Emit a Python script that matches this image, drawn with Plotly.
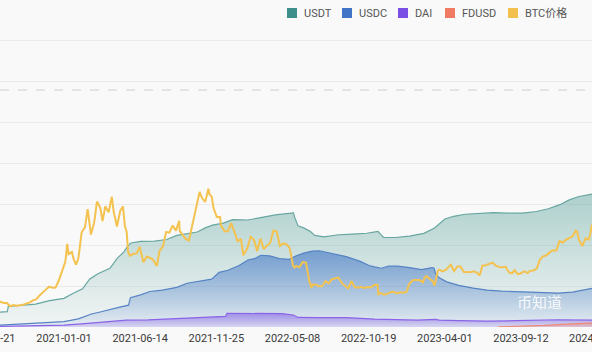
import pandas as pd
import plotly.graph_objects as go

# ---------------- data ----------------
btc_dates = [
    "2020-08-10","2020-08-17","2020-08-24","2020-08-31","2020-09-07","2020-09-14","2020-09-21","2020-09-28",
    "2020-10-05","2020-10-12","2020-10-19","2020-10-26","2020-11-02","2020-11-09","2020-11-16","2020-11-23",
    "2020-11-30","2020-12-07","2020-12-14","2020-12-21","2020-12-28","2021-01-04","2021-01-08","2021-01-11",
    "2021-01-18","2021-01-22","2021-01-27","2021-02-01","2021-02-08","2021-02-15","2021-02-21","2021-02-28",
    "2021-03-07","2021-03-13","2021-03-20","2021-03-25","2021-03-31","2021-04-07","2021-04-14","2021-04-18",
    "2021-04-25","2021-05-02","2021-05-08","2021-05-12","2021-05-16","2021-05-19","2021-05-23","2021-05-30",
    "2021-06-06","2021-06-13","2021-06-21","2021-06-28","2021-07-05","2021-07-12","2021-07-20","2021-07-26",
    "2021-08-02","2021-08-09","2021-08-16","2021-08-23","2021-08-30","2021-09-06","2021-09-07","2021-09-13",
    "2021-09-20","2021-09-27","2021-10-04","2021-10-11","2021-10-20","2021-10-25","2021-11-01","2021-11-08",
    "2021-11-10","2021-11-15","2021-11-19","2021-11-26","2021-12-03","2021-12-05","2021-12-13","2021-12-20",
    "2021-12-27","2022-01-03","2022-01-10","2022-01-17","2022-01-22","2022-01-31","2022-02-07","2022-02-14",
    "2022-02-21","2022-02-28","2022-03-07","2022-03-14","2022-03-21","2022-03-28","2022-04-04","2022-04-11",
    "2022-04-18","2022-04-25","2022-05-02","2022-05-09","2022-05-12","2022-05-16","2022-05-23","2022-05-30",
    "2022-06-06","2022-06-13","2022-06-18","2022-06-20","2022-06-27","2022-07-04","2022-07-11","2022-07-18",
    "2022-07-25","2022-08-01","2022-08-08","2022-08-15","2022-08-22","2022-08-29","2022-09-05","2022-09-12",
    "2022-09-19","2022-09-26","2022-10-03","2022-10-10","2022-10-17","2022-10-24","2022-10-31","2022-11-07",
    "2022-11-09","2022-11-14","2022-11-21","2022-11-28","2022-12-05","2022-12-12","2022-12-19","2022-12-26",
    "2023-01-02","2023-01-09","2023-01-14","2023-01-23","2023-01-30","2023-02-06","2023-02-13","2023-02-16",
    "2023-02-20","2023-02-27","2023-03-06","2023-03-10","2023-03-13","2023-03-17","2023-03-20","2023-03-27",
    "2023-04-03","2023-04-10","2023-04-14","2023-04-21","2023-04-28","2023-05-05","2023-05-12","2023-05-19",
    "2023-05-26","2023-06-02","2023-06-09","2023-06-15","2023-06-21","2023-06-28","2023-07-05","2023-07-13",
    "2023-07-20","2023-07-27","2023-08-03","2023-08-10","2023-08-17","2023-08-24","2023-08-29","2023-09-05",
    "2023-09-12","2023-09-19","2023-09-26","2023-10-02","2023-10-09","2023-10-16","2023-10-23","2023-10-30",
    "2023-11-06","2023-11-13","2023-11-20","2023-11-27","2023-12-04","2023-12-11","2023-12-18","2023-12-25",
    "2024-01-01","2024-01-08","2024-01-11","2024-01-15","2024-01-22","2024-01-29","2024-02-05","2024-02-08",
    "2024-02-12",
]
btc_prices = [
    11900,12300,11700,11700,10100,10700,10400,10700,
    10800,11500,11900,13000,13500,15300,16700,18400,
    19700,19200,19300,22800,27000,31900,40600,35500,
    36600,33000,30400,33500,46200,48600,57500,45100,
    51000,61200,58200,51700,58900,56000,63500,56200,
    49000,56600,58800,49200,46400,36700,34700,35700,
    35800,39100,31600,34400,33800,32700,29800,37300,
    39200,46400,46000,49500,47000,51800,46900,44900,
    43000,42200,49100,57500,65900,63000,61000,67500,
    64900,63600,58000,53600,53600,49400,46700,46700,
    50700,46400,41800,43100,35000,38500,44000,42500,
    37000,43200,38000,39700,41000,47100,46600,39500,
    40800,40400,38500,30100,29000,29800,29100,31700,
    31400,22500,19000,20600,20700,19900,19900,22400,
    21300,23300,23800,24100,21500,20300,18800,22400,
    19500,19200,19600,19100,19500,19300,20500,20600,
    15900,16600,15800,16200,17000,17200,16400,16900,
    16700,17200,20900,22900,22800,22900,21800,23800,
    24800,23500,22400,20200,24100,27400,28000,27100,
    27800,29700,30400,27300,29500,29500,26800,26800,
    26700,27200,26500,25100,30000,30100,30800,31400,
    29900,29300,29200,29400,26600,26200,27700,25800,
    26200,27200,26300,27500,27600,28500,33000,34500,
    35000,36500,37400,37200,41900,41200,42600,43600,
    44200,47000,46400,42500,39500,43300,42600,45300,
    50000,
]

usdt_dates = [
    "2020-08-10","2020-09-01","2020-09-03","2020-10-01","2020-11-01","2020-12-01","2021-01-01","2021-01-20",
    "2021-02-10","2021-02-25","2021-03-15","2021-04-10","2021-04-25","2021-05-10","2021-05-18","2021-05-25",
    "2021-06-15","2021-07-15","2021-08-10","2021-09-01","2021-09-25","2021-10-15","2021-11-01","2021-11-17",
    "2021-12-10","2021-12-30","2022-02-01","2022-03-01","2022-04-01","2022-05-10","2022-05-13","2022-05-20",
    "2022-06-01","2022-06-15","2022-06-25","2022-07-15","2022-08-15","2022-09-15","2022-10-15","2022-11-08",
    "2022-11-20","2022-12-15","2023-01-15","2023-02-15","2023-03-10","2023-04-01","2023-04-20","2023-05-15",
    "2023-06-15","2023-07-15","2023-08-15","2023-09-15","2023-10-15","2023-11-10","2023-12-05","2023-12-25",
    "2024-01-15","2024-02-01","2024-02-15",
]
usdt_cap = [
    10.8,11.2,15.0,15.8,16.8,19.3,21.0,24.5,
    28.0,35.0,39.0,43.0,50.0,55.0,59.0,61.5,
    62.7,62.8,64.0,67.0,68.5,69.5,72.5,74.5,
    76.0,78.5,78.3,80.0,82.0,83.5,80.0,74.0,
    72.5,70.0,67.0,66.0,67.5,68.0,68.6,70.0,
    65.5,65.5,66.5,68.5,72.5,79.0,81.0,82.5,
    83.3,83.7,83.3,83.3,84.5,86.5,89.5,93.0,
    95.5,96.5,97.5,
]

usdc_dates = [
    "2020-08-10","2020-09-15","2020-10-15","2020-12-01","2021-01-01","2021-02-01","2021-03-01","2021-03-20",
    "2021-04-10","2021-05-01","2021-05-20","2021-05-24","2021-06-15","2021-07-05","2021-08-01","2021-09-01",
    "2021-09-23","2021-10-20","2021-11-15","2021-12-01","2021-12-20","2022-01-13","2022-02-01","2022-02-15",
    "2022-03-01","2022-03-20","2022-04-10","2022-05-01","2022-05-15","2022-06-01","2022-06-20","2022-07-05",
    "2022-08-01","2022-09-01","2022-10-01","2022-10-20","2022-11-01","2022-11-15","2022-12-01","2022-12-20",
    "2023-01-15","2023-02-10","2023-03-05","2023-03-09","2023-03-12","2023-03-20","2023-04-05","2023-05-01",
    "2023-06-01","2023-07-01","2023-08-01","2023-09-01","2023-10-01","2023-11-01","2023-12-01","2024-01-01",
    "2024-02-01","2024-02-15",
]
usdc_cap = [
    1.2,1.8,2.7,3.0,4.0,6.0,9.5,11.0,
    12.5,14.5,16.0,21.5,23.5,26.0,27.0,29.0,
    32.0,33.5,35.0,40.0,41.5,45.0,49.0,50.0,
    52.5,52.0,50.0,49.5,52.0,54.0,55.5,55.8,
    54.0,51.5,48.0,45.0,44.0,43.0,44.5,44.5,
    43.5,42.0,43.5,43.0,39.0,36.0,33.0,30.5,
    28.5,27.0,26.2,25.8,25.2,24.8,24.8,25.5,
    27.5,28.5,
]

dai_dates = [
    "2020-08-10","2020-10-01","2020-12-01","2021-01-01","2021-02-15","2021-04-01","2021-05-15","2021-07-01",
    "2021-09-01","2021-10-15","2021-11-15","2021-12-15","2021-12-18","2022-01-15","2022-03-01","2022-04-15",
    "2022-05-10","2022-05-20","2022-07-01","2022-09-01","2022-11-01","2022-12-01","2023-02-01","2023-03-12",
    "2023-03-20","2023-05-01","2023-07-01","2023-09-01","2023-10-15","2023-12-01","2024-02-15",
]
dai_cap = [
    0.4,0.9,1.0,1.3,2.5,3.5,5.0,5.2,
    6.0,7.0,7.5,7.8,10.0,10.0,10.2,9.8,
    8.8,7.0,6.8,6.9,5.8,5.5,5.0,5.6,
    5.0,4.7,4.3,4.6,5.2,5.3,5.0,
]

fdusd_dates = ["2023-07-25","2023-09-01","2023-10-01","2023-11-01","2023-12-01","2024-01-01","2024-02-01","2024-02-15"]
fdusd_cap = [0.1,0.4,0.7,1.2,1.8,2.3,2.7,3.0]

tick_labels = ["2020-07-21","2021-01-01","2021-06-14","2021-11-25","2022-05-08",
               "2022-10-19","2023-04-01","2023-09-12","2024-02-23"]

dashed_level = 173.4          # reference line on the market-cap axis (B)
cap_axis_max, cap_axis_step = 210, 30
btc_axis_max = 140000

series_names = ["USDT", "USDC", "DAI", "FDUSD", "BTC价格"]
series_colors = ["#3d8f8b", "#3f74c6", "#7a4fe6", "#f07a62", "#f2c04e"]

# ---------------- layout helpers ----------------
W, H = 592, 352
M_L, M_R, M_T, M_B = 0, 0, 38, 25
grid_px = 287                                   # pixel height of the gridded 0..max span
pad_frac = (H - M_T - M_B) / grid_px            # leaves the top gridline 2px inside the plot
px_per_day = 0.4644
x_start = pd.Timestamp("2021-01-01") - pd.Timedelta(days=64 / px_per_day)
x_end = x_start + pd.Timedelta(days=W / px_per_day)

def xfrac(d):
    d = pd.Timestamp(d)
    return (d - x_start) / (x_end - x_start)

def py(pix):  # pixel y -> paper y
    return (H - M_B - pix) / (H - M_T - M_B)

def px(pix):
    return pix / W

fig = go.Figure()

def area(name, dates, vals, color, line_color, top_alpha, bot_alpha, width=1.2):
    r, g, b = int(color[1:3], 16), int(color[3:5], 16), int(color[5:7], 16)
    fig.add_trace(go.Scatter(
        x=dates, y=vals, name=name, mode="lines", showlegend=False,
        line=dict(color=line_color, width=width),
        fill="tozeroy",
        fillgradient=dict(type="vertical", start=0, stop=max(vals),
                          colorscale=[[0, f"rgba({r},{g},{b},{bot_alpha})"],
                                      [1, f"rgba({r},{g},{b},{top_alpha})"]]),
        hoverinfo="skip",
    ))

area("USDT", usdt_dates, usdt_cap, "#46978f", "#67a6a0", 0.42, 0.04)
area("USDC", usdc_dates, usdc_cap, "#3f74c6", "#5583c4", 0.62, 0.06)
area("DAI", dai_dates, dai_cap, "#7a4fe6", "#8a63e8", 0.55, 0.15)
area("FDUSD", fdusd_dates, fdusd_cap, "#f07a62", "#f08a78", 0.5, 0.2)

fig.add_trace(go.Scatter(
    x=btc_dates, y=btc_prices, name="BTC价格", mode="lines", yaxis="y2",
    showlegend=False, line=dict(color="#f4c24f", width=2), hoverinfo="skip",
))

grid_color = "#ebebeb"
fig.update_layout(
    width=W, height=H,
    margin=dict(l=M_L, r=M_R, t=M_T, b=M_B, pad=0),
    paper_bgcolor="#f9f9f9", plot_bgcolor="#f9f9f9",
    showlegend=False,
    xaxis=dict(
        type="date", range=[x_start, x_end],
        tickmode="array", tickvals=tick_labels, ticktext=tick_labels,
        showgrid=False, zeroline=False, showline=False, ticks="",
        ticklabelstandoff=3,
        tickfont=dict(family="Roboto", size=11, color="#3a3a3a"),
    ),
    yaxis=dict(
        range=[0, cap_axis_max * pad_frac], dtick=cap_axis_step, tick0=0,
        showticklabels=False, showgrid=True, gridcolor=grid_color, gridwidth=1,
        zeroline=False, showline=False,
    ),
    yaxis2=dict(
        range=[0, btc_axis_max * pad_frac], overlaying="y", side="right",
        showticklabels=False, showgrid=False, zeroline=False, showline=False,
    ),
)

fig.add_shape(type="line", xref="paper", x0=0, x1=1, yref="y", y0=dashed_level, y1=dashed_level,
              line=dict(color="#cfcfcf", width=1, dash="dash"), layer="below")

# edge tick labels that fall partly outside the visible range
for lab in (tick_labels[0], tick_labels[-1]):
    fig.add_annotation(text=lab, xref="paper", x=xfrac(lab), yref="paper", y=0,
                       yanchor="top", xanchor="center", showarrow=False, yshift=-3,
                       font=dict(family="Roboto", size=11, color="#3a3a3a"))

# legend (square swatches + labels)
sw_x = [287, 342, 398, 445, 508]
for name, col, sx in zip(series_names, series_colors, sw_x):
    fig.add_shape(type="rect", xref="paper", yref="paper",
                  x0=px(sx), x1=px(sx + 10), y0=py(18), y1=py(8),
                  fillcolor=col, line=dict(width=0))
    fig.add_annotation(text=name, xref="paper", yref="paper", x=px(sx + 15), y=py(13),
                       xanchor="left", yanchor="middle", showarrow=False,
                       font=dict(family="Roboto, Noto Sans CJK SC", size=11, color="#555"))

# watermark
fig.add_annotation(text="币知道", xref="paper", yref="paper", x=px(539), y=py(301),
                   xanchor="center", yanchor="middle", showarrow=False,
                   font=dict(family="Noto Sans CJK SC", size=15, color="rgba(255,255,255,0.9)"))

fig.write_html("out.html")
